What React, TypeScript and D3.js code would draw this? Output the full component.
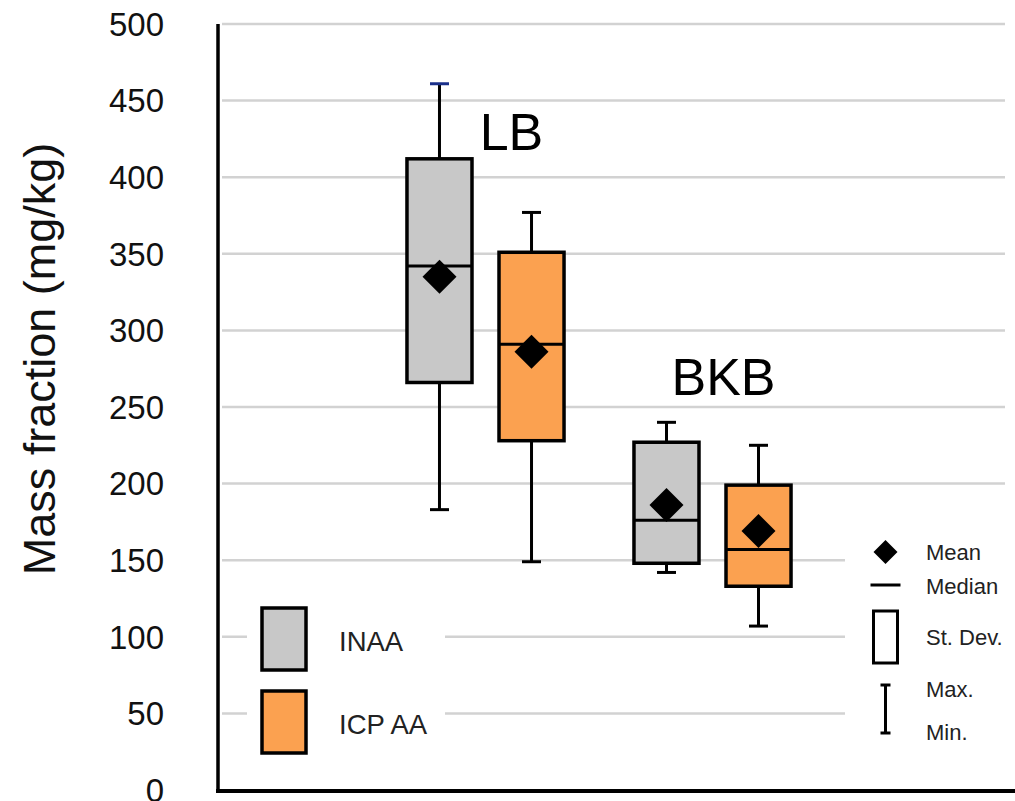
import React, { useEffect, useRef } from 'react';
import * as d3 from 'd3';

// categories
const groups = ['LB', 'BKB'];
const methods = ['INAA', 'ICP AA'];
const methodColors = ['#c8c8c8', '#fba150'];

// values per group, [INAA, ICP AA]
const maxValues = [[461, 377], [240, 225]];
const sdTop = [[412, 351], [227, 199]];
const medians = [[342, 291], [176, 157]];
const means = [[335, 286], [186, 169]];
const sdBottom = [[266, 228], [148, 133]];
const minValues = [[183, 149], [142, 107]];

const yTicks = [0, 50, 100, 150, 200, 250, 300, 350, 400, 450, 500];
const keyItems = ['Mean', 'Median', 'St. Dev.', 'Max.', 'Min.'];

const W = 1015;
const H = 801;
const FONT = '"Liberation Sans", Arial, sans-serif';

const App = () => {
  const svgRef = useRef<SVGSVGElement>(null);

  useEffect(() => {
    const svg = d3.select(svgRef.current);
    svg.selectAll('*').remove();

    const y = d3.scaleLinear().domain([0, 500]).range([790, 24]);
    const xGroup = d3.scaleBand().domain(groups).range([372, 826]);
    const xMethod = d3.scaleBand().domain(methods)
      .range([0, xGroup.bandwidth()])
      .paddingInner(0.2935)
      .paddingOuter(0.38);
    const bw = xMethod.bandwidth();

    // gridlines
    svg.append('g')
      .selectAll('line')
      .data(yTicks.filter(d => d > 0))
      .join('line')
      .attr('x1', 222)
      .attr('x2', 1005)
      .attr('y1', d => y(d))
      .attr('y2', d => y(d))
      .attr('stroke', '#d2d2d2')
      .attr('stroke-width', 2.5);

    // tick labels
    svg.append('g')
      .selectAll('text')
      .data(yTicks)
      .join('text')
      .attr('x', 164)
      .attr('y', d => y(d))
      .attr('dy', '0.36em')
      .attr('text-anchor', 'end')
      .attr('font-family', FONT)
      .attr('font-size', 33)
      .attr('fill', '#111')
      .text(d => d);

    // axis title
    svg.append('text')
      .attr('transform', `translate(55, ${359}) rotate(-90)`)
      .attr('text-anchor', 'middle')
      .attr('font-family', FONT)
      .attr('font-size', 45)
      .attr('fill', '#111')
      .text('Mass fraction (mg/kg)');

    // legend backgrounds (hide gridlines)
    svg.append('rect').attr('x', 247).attr('y', 597).attr('width', 198).attr('height', 168).attr('fill', '#fff');
    svg.append('rect').attr('x', 845).attr('y', 535).attr('width', 165).attr('height', 225).attr('fill', '#fff');

    // boxes
    groups.forEach((g, gi) => {
      methods.forEach((m, mi) => {
        const x0 = xGroup(g)! + xMethod(m)!;
        const cx = x0 + bw / 2;
        const box = svg.append('g');
        // whisker
        box.append('line')
          .attr('x1', cx).attr('x2', cx)
          .attr('y1', y(maxValues[gi][mi])).attr('y2', y(minValues[gi][mi]))
          .attr('stroke', '#000').attr('stroke-width', 3);
        [maxValues[gi][mi], minValues[gi][mi]].forEach(v => {
          box.append('line')
            .attr('x1', cx - 9.5).attr('x2', cx + 9.5)
            .attr('y1', y(v)).attr('y2', y(v))
            .attr('stroke', gi === 0 && mi === 0 && v === maxValues[gi][mi] ? '#1a2f8a' : '#000')
            .attr('stroke-width', 3);
        });
        // st. dev. box
        box.append('rect')
          .attr('x', x0)
          .attr('y', y(sdTop[gi][mi]))
          .attr('width', bw)
          .attr('height', y(sdBottom[gi][mi]) - y(sdTop[gi][mi]))
          .attr('fill', methodColors[mi])
          .attr('stroke', '#000')
          .attr('stroke-width', 3.5);
        // median
        box.append('line')
          .attr('x1', x0).attr('x2', x0 + bw)
          .attr('y1', y(medians[gi][mi])).attr('y2', y(medians[gi][mi]))
          .attr('stroke', '#000').attr('stroke-width', 3);
        // mean
        const my = y(means[gi][mi]);
        box.append('path')
          .attr('d', `M${cx},${my - 17}L${cx + 17},${my}L${cx},${my + 17}L${cx - 17},${my}Z`)
          .attr('fill', '#000');
      });
    });

    // group labels
    const labelY = [418, 258];
    const labelDx = [26, 11];
    svg.append('g')
      .selectAll('text')
      .data(groups)
      .join('text')
      .attr('x', (d, i) => xGroup(d)! + xGroup.bandwidth() / 2 + labelDx[i])
      .attr('y', (d, i) => y(labelY[i]))
      .attr('text-anchor', 'middle')
      .attr('font-family', FONT)
      .attr('font-size', 52)
      .attr('fill', '#000')
      .text(d => d);

    // axes
    svg.append('line').attr('x1', 218).attr('x2', 218).attr('y1', 24).attr('y2', 792)
      .attr('stroke', '#000').attr('stroke-width', 3.5);
    svg.append('line').attr('x1', 216).attr('x2', W).attr('y1', 791).attr('y2', 791)
      .attr('stroke', '#000').attr('stroke-width', 4);

    // method legend
    const leg = svg.append('g');
    methods.forEach((m, i) => {
      const top = 608 + i * 83;
      leg.append('rect')
        .attr('x', 262).attr('y', top)
        .attr('width', 44).attr('height', 62)
        .attr('fill', methodColors[i])
        .attr('stroke', '#000').attr('stroke-width', 3.5);
      leg.append('text')
        .attr('x', 339).attr('y', top + 43)
        .attr('font-family', FONT).attr('font-size', 27.5)
        .attr('fill', '#222')
        .text(m);
    });

    // symbol key
    const key = svg.append('g');
    const kx = 885.5;
    key.append('path')
      .attr('d', `M${kx},540L${kx + 12},552L${kx},564L${kx - 12},552Z`)
      .attr('fill', '#000');
    key.append('line').attr('x1', kx - 15).attr('x2', kx + 15).attr('y1', 585).attr('y2', 585)
      .attr('stroke', '#000').attr('stroke-width', 3);
    key.append('rect').attr('x', 873.5).attr('y', 611).attr('width', 24).attr('height', 52)
      .attr('fill', '#fff').attr('stroke', '#000').attr('stroke-width', 3);
    key.append('line').attr('x1', kx).attr('x2', kx).attr('y1', 685).attr('y2', 733)
      .attr('stroke', '#000').attr('stroke-width', 3);
    [685, 733].forEach(v => {
      key.append('line').attr('x1', kx - 5).attr('x2', kx + 5).attr('y1', v).attr('y2', v)
        .attr('stroke', '#000').attr('stroke-width', 3);
    });
    const keyBaselines = [560, 594, 645, 697, 740];
    key.selectAll('text')
      .data(keyItems)
      .join('text')
      .attr('x', 926)
      .attr('y', (d, i) => keyBaselines[i])
      .attr('font-family', FONT)
      .attr('font-size', 22)
      .attr('fill', '#222')
      .text(d => d);
  }, []);

  return (
    <svg
      ref={svgRef}
      width={W}
      height={H}
      style={{ position: 'absolute', left: 0, top: 0, background: '#fff' }}
    />
  );
};

export default App;
